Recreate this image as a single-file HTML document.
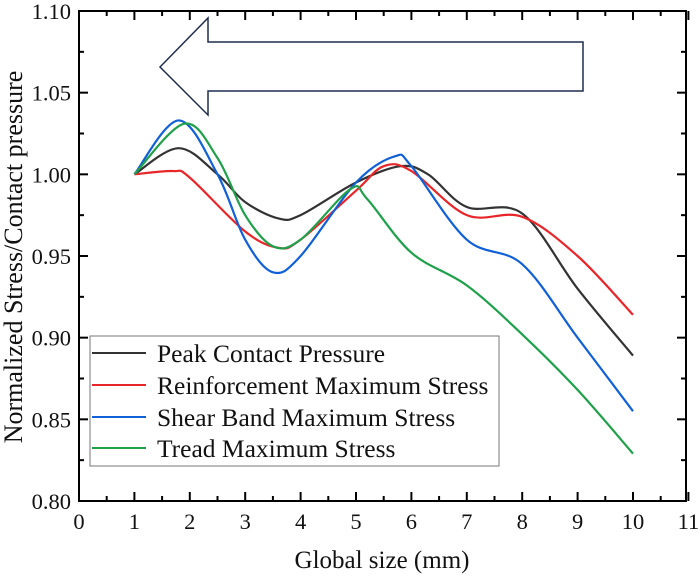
<!DOCTYPE html>
<html><head><meta charset="utf-8"><style>
body{margin:0;background:#fff}
text{font-family:"Liberation Serif",serif;fill:#111}
</style></head><body>
<svg id="s" width="700" height="577" xmlns="http://www.w3.org/2000/svg">
<polygon points="160,67 208,18 208,42 583,42 583,91 208,91 208,115" fill="none" stroke="#1f2d4f" stroke-width="1.5"/>
<g id="curves" fill="none" stroke-width="2.2"></g>
<rect x="79" y="11" width="607" height="490" fill="none" stroke="#000" stroke-width="2"/>
<g id="ticks" stroke="#000" stroke-width="2"></g>
<g id="labels" font-size="22.5"></g>
<text x="382" y="568" font-size="25" text-anchor="middle">Global size (mm)</text>
<text transform="translate(22,257) rotate(-90)" font-size="26" text-anchor="middle">Normalized Stress/Contact pressure</text>
<rect x="90" y="336" width="409" height="130" fill="#fff" stroke="#777" stroke-width="1"/>
<line x1="92" y1="353" x2="146" y2="353" stroke="#333" stroke-width="2"/>
<line x1="92" y1="385" x2="146" y2="385" stroke="#e8262a" stroke-width="2"/>
<line x1="92" y1="417" x2="146" y2="417" stroke="#1060d8" stroke-width="2"/>
<line x1="92" y1="448" x2="146" y2="448" stroke="#1fa04a" stroke-width="2"/>
<g font-size="25.5">
<text x="157" y="362">Peak Contact Pressure</text>
<text x="157" y="394">Reinforcement Maximum Stress</text>
<text x="157" y="426">Shear Band Maximum Stress</text>
<text x="157" y="457">Tread Maximum Stress</text>
</g>
</svg>
<script>
const X=x=>79+55.4*x, Y=y=>11+(1.10-y)*1633.3;
const NS="http://www.w3.org/2000/svg";
const data=[
["#333",[[1,1],[1.8,1.016],[2.5,1.0],[3,0.983],[3.6,0.973],[4,0.975],[5,0.995],[5.8,1.005],[6.3,1.0],[7,0.98],[8,0.976],[9,0.93],[10,0.889]]],
["#e8262a",[[1,1],[1.7,1.002],[2,0.998],[3,0.965],[3.6,0.955],[4,0.96],[5,0.99],[5.5,1.005],[6,1.002],[7,0.975],[8,0.974],[9,0.95],[10,0.914]]],
["#1060d8",[[1,1],[1.8,1.033],[2.5,1.0],[3,0.96],[3.5,0.94],[4,0.95],[5,0.995],[5.7,1.011],[6,1.005],[7,0.96],[8,0.945],[9,0.9],[10,0.855]]],
["#1fa04a",[[1,1],[1.9,1.031],[2.5,1.01],[3,0.975],[3.5,0.956],[4,0.96],[4.9,0.991],[5.2,0.985],[6,0.952],[7,0.932],[8,0.902],[9,0.868],[10,0.829]]]];
const g=document.getElementById("curves");
for(const [c,pts] of data){
 const p=pts.map(([a,b])=>[X(a),Y(b)]);
 let d="M"+p[0][0]+","+p[0][1];
 for(let i=0;i<p.length-1;i++){
  const p0=p[i-1]||p[i],p1=p[i],p2=p[i+1],p3=p[i+2]||p2;
  d+=` C${p1[0]+(p2[0]-p0[0])/6},${p1[1]+(p2[1]-p0[1])/6} ${p2[0]-(p3[0]-p1[0])/6},${p2[1]-(p3[1]-p1[1])/6} ${p2[0]},${p2[1]}`;
 }
 const e=document.createElementNS(NS,"path");e.setAttribute("d",d);e.setAttribute("stroke",c);g.appendChild(e);
}
const t=document.getElementById("ticks"),L=document.getElementById("labels");
function ln(a,b,c,d){const e=document.createElementNS(NS,"line");e.setAttribute("x1",a);e.setAttribute("y1",b);e.setAttribute("x2",c);e.setAttribute("y2",d);t.appendChild(e);}
function tx(x,y,s,anc){const e=document.createElementNS(NS,"text");e.setAttribute("x",x);e.setAttribute("y",y);e.setAttribute("text-anchor",anc);e.textContent=s;L.appendChild(e);}
for(let i=0;i<=22;i++){const x=X(i/2),len=i%2?5:9;ln(x,501,x,501-len);ln(x,11,x,11+len);if(i%2==0)tx(x,529,String(i/2),"middle");}
for(let i=0;i<=12;i++){const v=0.8+i*0.025,y=Y(v),len=i%2?5:9;ln(79,y,79+len,y);ln(686,y,686-len,y);if(i%2==0)tx(71,y+8,v.toFixed(2),"end");}
</script>
</body></html>
